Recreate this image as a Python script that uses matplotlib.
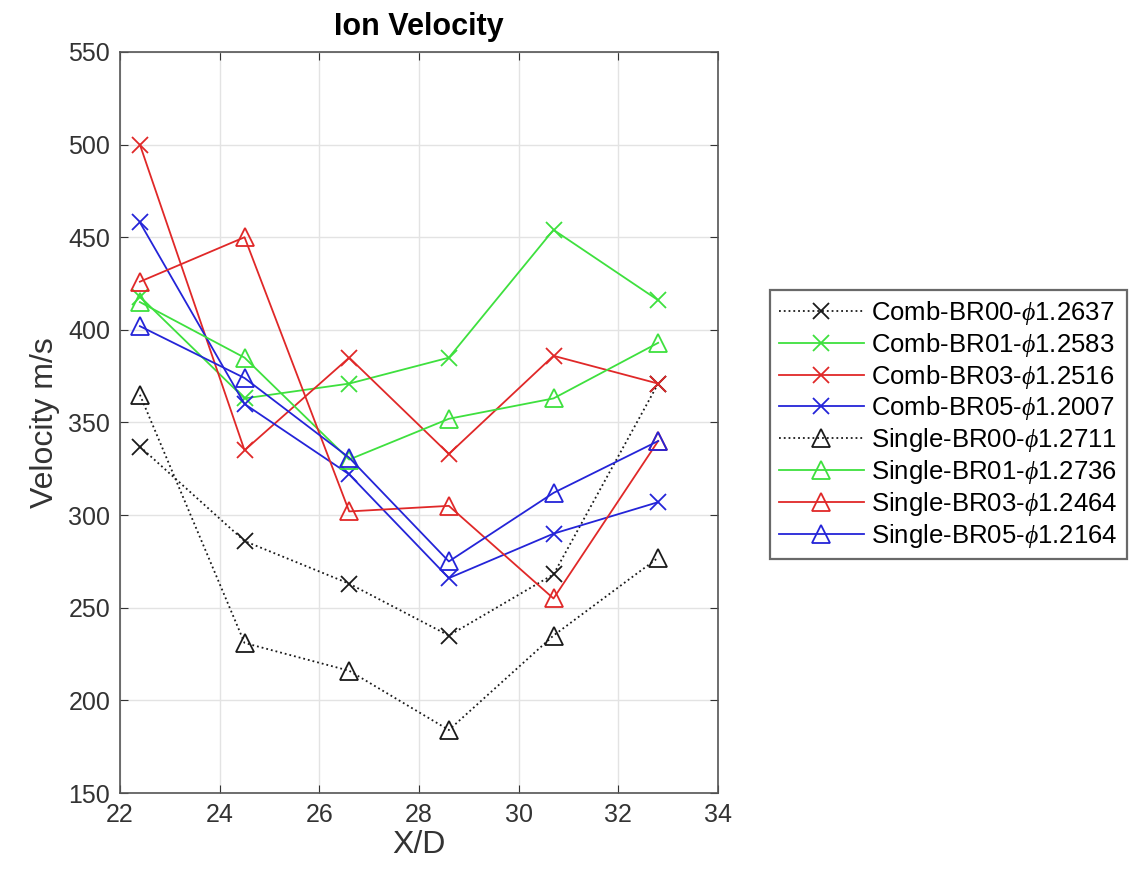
import matplotlib
matplotlib.use("Agg")
import matplotlib.pyplot as plt
import numpy as np

plt.rcParams['font.family'] = ['Liberation Sans', 'DejaVu Sans']
plt.rcParams['mathtext.fontset'] = 'custom'
plt.rcParams['mathtext.it'] = 'Liberation Serif:italic'

# x positions (X/D)
xd = [22.4, 24.5, 26.6, 28.6, 30.7, 32.8]

# velocities (m/s)
comb_br00 = [337, 286, 263, 235, 268, 371]
comb_br01 = [418, 363, 371, 385, 454, 416]
comb_br03 = [500, 335, 385, 333, 386, 371]
comb_br05 = [458, 360, 322, 266, 290, 307]
single_br00 = [365, 231, 216, 184, 235, 277]
single_br01 = [415, 385, 330, 352, 363, 393]
single_br03 = [426, 450, 302, 305, 255, 340]
single_br05 = [402, 374, 331, 275, 312, 340]

labels = ["Comb-BR00-$\\phi$1.2637", "Comb-BR01-$\\phi$1.2583",
          "Comb-BR03-$\\phi$1.2516", "Comb-BR05-$\\phi$1.2007",
          "Single-BR00-$\\phi$1.2711", "Single-BR01-$\\phi$1.2736",
          "Single-BR03-$\\phi$1.2464", "Single-BR05-$\\phi$1.2164"]

black = '#1a1a1a'
green = '#3ee03e'
red = '#e02828'
blue = '#2424d8'

series = [comb_br00, comb_br01, comb_br03, comb_br05,
          single_br00, single_br01, single_br03, single_br05]
colours = [black, green, red, blue, black, green, red, blue]
styles = [':', '-', '-', '-', ':', '-', '-', '-']
markers = ['x', 'x', 'x', 'x', '^', '^', '^', '^']

fig = plt.figure(figsize=(11.36, 8.75), dpi=100)
ax = fig.add_axes([0.1056, 0.0937, 0.5264, 0.8469])

for vals, c, ls, m, lab in zip(series, colours, styles, markers, labels):
    if m == 'x':
        ax.plot(xd, vals, linestyle=ls, color=c, marker='x', markersize=11,
                markeredgewidth=1.3, linewidth=1.3, label=lab)
    else:
        ax.plot(xd, vals, linestyle=ls, color=c, marker='^', markersize=13,
                markerfacecolor='none', markeredgewidth=1.3, linewidth=1.3, label=lab)

ax.set_xlim(22, 34)
ax.set_ylim(150, 550)
ax.set_xticks(np.arange(22, 35, 2))
ax.set_yticks(np.arange(150, 551, 50))
ax.grid(True, color='#e3e3e3', linewidth=1.0)
ax.set_axisbelow(True)
ax.tick_params(direction='in', labelsize=18, length=6, colors='#333333',
               top=True, right=True, pad=7)
for sp in ax.spines.values():
    sp.set_color('#555555')
    sp.set_linewidth(1.2)

ax.set_xlabel("X/D", fontsize=23, color='#333333', labelpad=2)
ax.set_ylabel("Velocity m/s", fontsize=23, color='#333333', labelpad=6)
ax.set_title("Ion Velocity", fontsize=22, fontweight='bold', pad=12)

leg = ax.legend(loc='upper left', bbox_to_anchor=(1.087, 0.679), fontsize=18.5,
                frameon=True, fancybox=False, edgecolor='#444444',
                handlelength=3.3, handletextpad=0.3, labelspacing=0.15,
                borderpad=0.35, borderaxespad=0)
leg.get_frame().set_linewidth(1.6)

fig.savefig("out.png", dpi=100)
